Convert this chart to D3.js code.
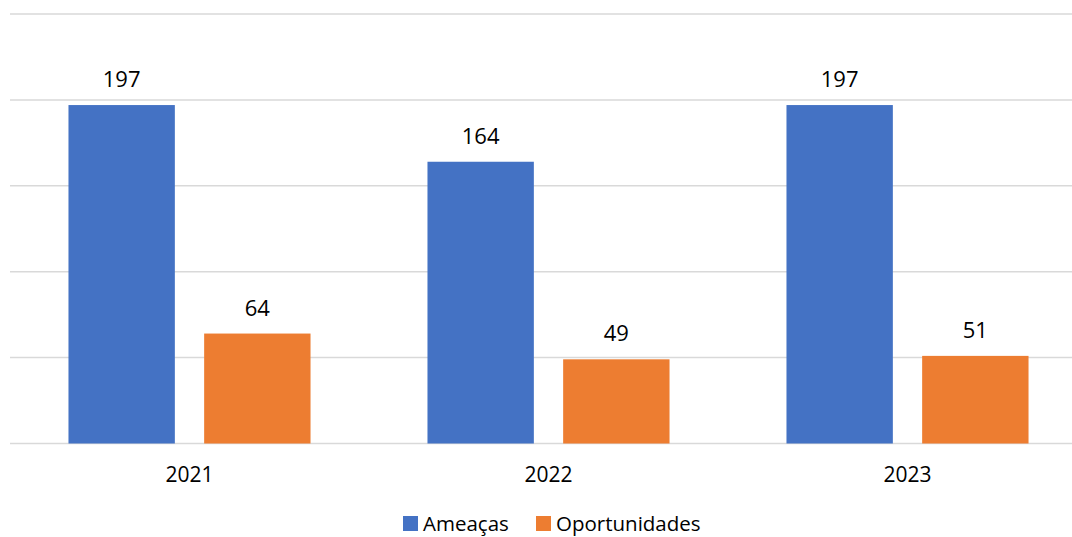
<!DOCTYPE html>
<html>
<head>
<meta charset="utf-8">
<script src="https://cdn.jsdelivr.net/npm/d3@7"></script>
<style>
  body { margin: 0; background: #fff; }
  svg text { font-family: "Open Sans", sans-serif; fill: #000; }
</style>
</head>
<body>
<div id="chart"></div>
<script>
let years = ["2021", "2022", "2023"]
let series = ["Ameaças", "Oportunidades"]
let ameacas = [197, 164, 197]
let oportunidades = [64, 49, 51]
let gridTicks = [0, 50, 100, 150, 200, 250]
let colors = ["#4472C4", "#ED7D31"]

let width = 1072, height = 537

let svg = d3.select("div#chart").append("svg")
    .attr("width", width)
    .attr("height", height)

let data = years.map((y, i) => ({year: y, values: [ameacas[i], oportunidades[i]]}))

let x0 = d3.scaleBand().domain(years).range([10, 1087]).padding(0)
let x1 = d3.scaleBand().domain(series).range([0, x0.bandwidth()])
    .paddingInner(0.216).paddingOuter(0.431)
let y = d3.scaleLinear().domain([0, 250]).range([443.5, 14])

// gridlines
svg.append("g").selectAll("line")
    .data(gridTicks)
    .enter().append("line")
    .attr("x1", 10).attr("x2", 1087)
    .attr("y1", d => y(d)).attr("y2", d => y(d))
    .style("stroke", "#d9d9d9")
    .style("stroke-width", 1.5)

// bars
let groups = svg.append("g").selectAll("g")
    .data(data)
    .enter().append("g")
    .attr("transform", d => "translate(" + x0(d.year) + ",0)")

groups.selectAll("rect")
    .data(d => d.values.map((v, i) => ({key: series[i], value: v, i: i})))
    .enter().append("rect")
    .attr("x", d => x1(d.key))
    .attr("width", x1.bandwidth())
    .attr("y", d => y(d.value))
    .attr("height", d => y(0) - y(d.value))
    .style("fill", d => colors[d.i])

groups.selectAll("text")
    .data(d => d.values.map((v, i) => ({key: series[i], value: v})))
    .enter().append("text")
    .attr("x", d => x1(d.key) + x1.bandwidth() / 2)
    .attr("y", d => y(d.value) - 18)
    .attr("text-anchor", "middle")
    .style("font-size", "22px")
    .text(d => d.value)

// x axis labels
svg.append("g").selectAll("text")
    .data(years)
    .enter().append("text")
    .attr("x", d => x0(d) + x0.bandwidth() / 2)
    .attr("y", 482)
    .attr("text-anchor", "middle")
    .style("font-size", "21px")
    .text(d => d)

// legend
let legend = svg.append("g")
let legendX = [403, 536]
series.forEach((s, i) => {
    legend.append("rect")
        .attr("x", legendX[i]).attr("y", 516)
        .attr("width", 15).attr("height", 15)
        .style("fill", colors[i])
    legend.append("text")
        .attr("x", legendX[i] + 20).attr("y", 531)
        .style("font-size", "20.5px")
        .text(s)
})
</script>
</body>
</html>
